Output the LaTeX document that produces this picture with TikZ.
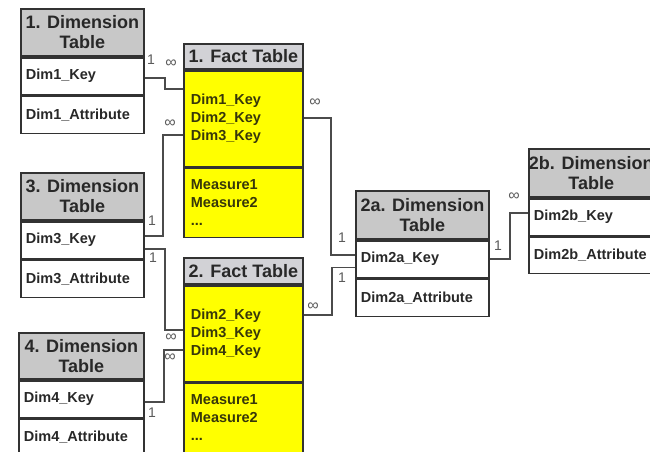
\documentclass[tikz,border=0pt]{standalone}
\usepackage{fontspec}
\setmainfont{Liberation Sans}
\usetikzlibrary{calc}

\definecolor{hdrgray}{RGB}{200,200,200}
\definecolor{facthdr}{RGB}{210,210,214}
\definecolor{factyellow}{RGB}{255,255,0}
\definecolor{edgecol}{RGB}{50,50,50}
\definecolor{wirecol}{RGB}{75,75,75}
\definecolor{inkcol}{RGB}{40,40,40}
\definecolor{factink}{RGB}{55,55,10}
\definecolor{markcol}{RGB}{90,90,90}

\begin{document}
\begin{tikzpicture}[x=1pt,y=-1pt,
  tbox/.style={draw=edgecol, line width=1.8pt, inner ysep=0pt, anchor=north west},
  dimhdr/.style={tbox, fill=hdrgray, minimum height=47pt, align=center, inner xsep=0pt,
    text=inkcol, font=\bfseries\fontsize{18}{20}\selectfont},
  facthead/.style={tbox, fill=facthdr, minimum height=25pt, minimum width=119pt, inner xsep=0pt,
    text=inkcol, font=\bfseries\fontsize{18}{20}\selectfont},
  dimrow/.style={tbox, fill=white, minimum height=37pt, inner xsep=5pt, align=left,
    text=inkcol, font=\bfseries\fontsize{14.5}{17}\selectfont},
  factbody/.style={tbox, fill=factyellow, minimum width=119pt, inner xsep=7pt, text width=105pt,
    align=left, text=factink, font=\bfseries\fontsize{14.5}{18}\selectfont},
  link/.style={draw=wirecol, line width=1.5pt},
  card/.style={text=markcol, inner sep=0pt, font=\fontsize{14}{14}\selectfont},
  many/.style={card, font=\fontsize{16}{16}\selectfont}
]
\useasboundingbox (0,0) rectangle (650,452);
\clip (0,0) rectangle (650,452);
\fill[white] (0,0) rectangle (650,452);

% ---- dimension table 1
\node[dimhdr, minimum width=123pt] (d1h) at (20,8) {1. Dimension\\Table};
\node[dimrow, text width=113pt] (d1k) at (d1h.south west) {Dim1\_Key};
\node[dimrow, text width=113pt] (d1a) at (d1k.south west) {Dim1\_Attribute};

% ---- dimension table 3
\node[dimhdr, minimum width=123pt] (d3h) at (20,172) {3. Dimension\\Table};
\node[dimrow, text width=113pt] (d3k) at (d3h.south west) {Dim3\_Key};
\node[dimrow, text width=113pt] (d3a) at (d3k.south west) {Dim3\_Attribute};

% ---- dimension table 4
\node[dimhdr, minimum width=125pt, minimum height=46pt] (d4h) at (18,332) {4. Dimension\\Table};
\node[dimrow, text width=115pt] (d4k) at (d4h.south west) {Dim4\_Key};
\node[dimrow, text width=115pt, minimum height=36pt] (d4a) at (d4k.south west) {Dim4\_Attribute};

% ---- fact table 1
\node[facthead] (f1h) at (183,43) {1. Fact Table};
\node[factbody, minimum height=96pt] (f1k) at (f1h.south west) {Dim1\_Key\\Dim2\_Key\\Dim3\_Key};
\node[factbody, minimum height=69pt] (f1m) at (f1k.south west) {Measure1\\Measure2\\...};

% ---- fact table 2
\node[facthead, minimum height=26pt] (f2h) at (183,257) {2. Fact Table};
\node[factbody, minimum height=96pt] (f2k) at (f2h.south west) {Dim2\_Key\\Dim3\_Key\\Dim4\_Key};
\node[factbody, minimum height=69pt] (f2m) at (f2k.south west) {Measure1\\Measure2\\...};

% ---- dimension table 2a
\node[dimhdr, minimum width=133pt, minimum height=48pt] (d2ah) at (355,190) {2a. Dimension\\Table};
\node[dimrow, text width=123pt] (d2ak) at (d2ah.south west) {Dim2a\_Key};
\node[dimrow, text width=123pt] (d2aa) at (d2ak.south west) {Dim2a\_Attribute};

% ---- dimension table 2b (runs past the right edge)
\node[dimhdr, minimum width=124pt, minimum height=48pt] (d2bh) at (528,148) {2b. Dimension\\Table};
\node[dimrow, text width=114pt] (d2bk) at (d2bh.south west) {Dim2b\_Key};
\node[dimrow, text width=114pt, minimum height=36pt] (d2ba) at (d2bk.south west) {Dim2b\_Attribute};

% ---- relationships
\draw[link] ($(d1k.east)+(0,2)$) -- ++(20,0) |- ($(f1k.north west)+(0,19)$);
\draw[link] ($(f1k.north west)+(0,65)$) -- ++(-20,0) |- ($(d3k.east)+(0,-4)$);
\draw[link] ($(d3k.east)+(0,9)$) -- ++(20,0) |- ($(f2k.north west)+(0,45)$);
\draw[link] ($(d4k.east)+(0,3)$) -- ++(19,0) |- ($(f2k.north west)+(0,65)$);
\draw[link] ($(f1k.north east)+(0,48)$) -- ++(27,0) |- ($(d2ak.west)+(0,-4)$);
\draw[link] ($(f2k.north east)+(0,30)$) -- ++(28,0) |- ($(d2ak.west)+(0,8.5)$);
\draw[link] (d2ak.east) -- ++(20,0) |- ($(d2bk.west)+(0,-4)$);

% ---- cardinality marks
\node[card] (c1a) at (151,60) {1};
\node[many] (c1b) at (171,64) {∞};
\node[many] (c2a) at (170,124) {∞};
\node[card] (c2b) at (152,221) {1};
\node[card] (c3a) at (153,258) {1};
\node[many] (c3b) at (171,338) {∞};
\node[many] (c4a) at (170,358) {∞};
\node[card] (c4b) at (152,413) {1};
\node[many] (c5a) at (315,103) {∞};
\node[card] (c5b) at (342,238) {1};
\node[many] (c6a) at (313,307) {∞};
\node[card] (c6b) at (342,278) {1};
\node[card] (c7a) at (498,246) {1};
\node[many] (c7b) at (514,197) {∞};
\end{tikzpicture}
\end{document}
